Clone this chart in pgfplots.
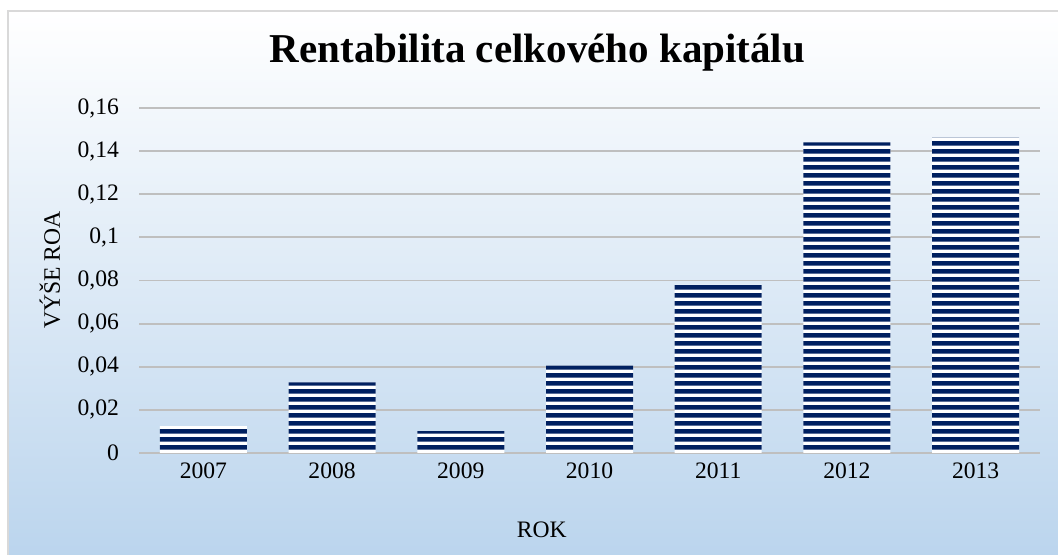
\documentclass[border=0pt]{standalone}
\usepackage{pgfplots}
\pgfplotsset{compat=1.18}
\usepackage{fontspec}
\setmainfont{Liberation Serif}
\usetikzlibrary{patterns.meta}
\definecolor{navy}{RGB}{0,32,96}
\definecolor{gridgray}{RGB}{191,191,191}
\definecolor{bgblue}{RGB}{186,212,237}
\definecolor{framegray}{RGB}{217,217,217}
\tikzdeclarepattern{
  name=hstripes,
  type=uncolored,
  bounding box={(0pt,0pt) and (540pt,4pt)},
  tile size={(540pt,4pt)},
  code={\pgfpathrectangle{\pgfpoint{0pt}{0.75pt}}{\pgfpoint{540pt}{2.5pt}}\pgfusepath{fill}}
}
\begin{document}
\begin{tikzpicture}
\useasboundingbox (0pt,0pt) rectangle (529pt,277.5pt);
\begin{scope}
\clip (0pt,0pt) rectangle (529pt,277.5pt);
\shade[top color=white, bottom color=bgblue] (4pt,-5pt) rectangle (535pt,272pt);
\draw[framegray, line width=1pt] (4pt,-5pt) rectangle (535pt,272pt);
\end{scope}
\node[font=\fontsize{20.5}{24}\selectfont\bfseries] at (268.75pt,251pt) {Rentabilita celkového kapitálu};
\begin{axis}[
  at={(69.5pt,51pt)}, anchor=south west,
  width=450.5pt, height=172.5pt, scale only axis,
  xmin=-0.5, xmax=6.5, ymin=0, ymax=0.16,
  xtick={0,1,2,3,4,5,6},
  xticklabels={2007,2008,2009,2010,2011,2012,2013},
  ytick={0,0.02,0.04,0.06,0.08,0.1,0.12,0.14,0.16},
  yticklabel={\pgfmathprintnumber[fixed,precision=2,use comma]{\tick}},
  /pgf/number format/assume math mode=true,
  major tick length=0pt,
  axis x line*=bottom,
  axis y line*=left,
  x axis line style={gridgray, line width=0.9pt, -},
  y axis line style={draw=none, -},
  ymajorgrids, grid style={gridgray, line width=0.9pt},
  tick label style={font=\fontsize{11.8}{14}\selectfont, text=black},
  yticklabel style={xshift=-6.5pt},
  xticklabel style={yshift=-1.5pt},
  xlabel={ROK}, ylabel={VÝŠE ROA},
  label style={font=\fontsize{11.8}{14}\selectfont},
  xlabel style={at={(axis description cs:0.447,-0.223)}, anchor=center},
  ylabel style={at={(axis description cs:-0.099,0.53)}, anchor=center},
  clip=false,
]
\addplot[ybar, bar width=43.5pt, draw=none, fill=white,
  postaction={pattern=hstripes, pattern color=navy}]
  coordinates {(0,0.0125) (1,0.0328) (2,0.0102) (3,0.0405) (4,0.078) (5,0.144) (6,0.1463)};
\end{axis}
\end{tikzpicture}
\end{document}
